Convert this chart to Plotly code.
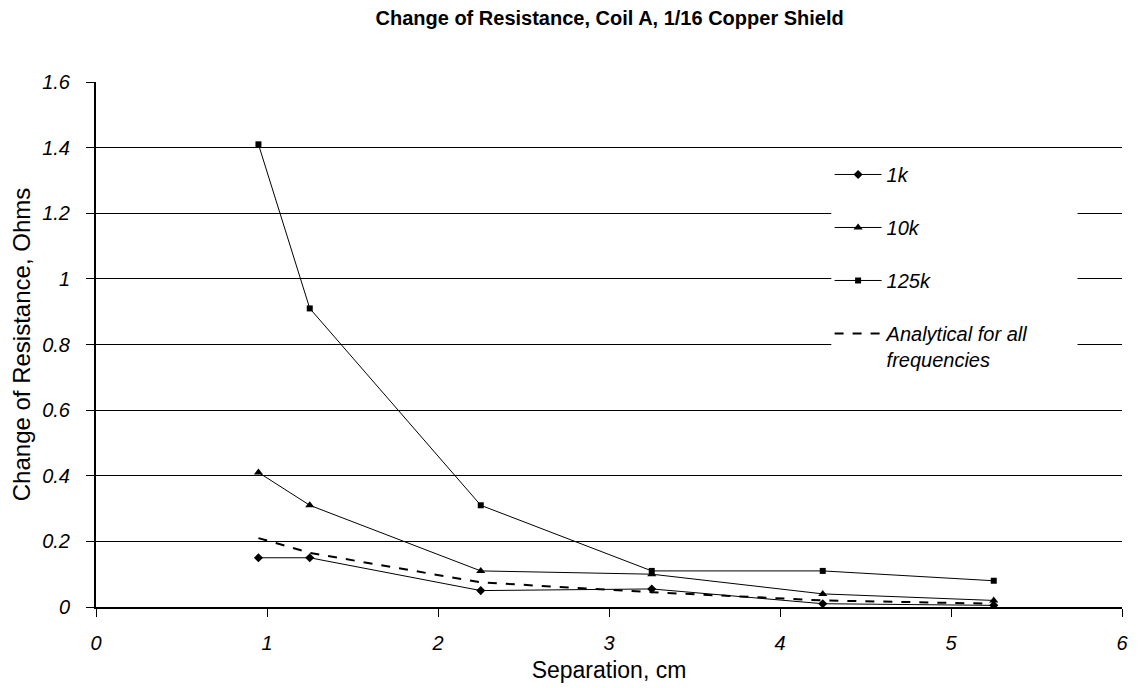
import plotly.graph_objects as go

separation = [0.95, 1.25, 2.25, 3.25, 4.25, 5.25]
r_1k = [0.15, 0.15, 0.05, 0.055, 0.01, 0.005]
r_10k = [0.41, 0.31, 0.11, 0.10, 0.04, 0.02]
r_125k = [1.41, 0.91, 0.31, 0.11, 0.11, 0.08]
r_analytical = [0.21, 0.165, 0.075, 0.045, 0.02, 0.01]

x_ticks = [0, 1, 2, 3, 4, 5, 6]
y_ticks = [0, 0.2, 0.4, 0.6, 0.8, 1.0, 1.2, 1.4, 1.6]
y_tick_text = ["0", "0.2", "0.4", "0.6", "0.8", "1", "1.2", "1.4", "1.6"]

FONT = "Liberation Sans, Arial, sans-serif"

fig = go.Figure()
fig.add_trace(go.Scatter(x=separation, y=r_1k, name="<i>1k</i>", mode="lines+markers",
                         line=dict(color="black", width=1),
                         marker=dict(symbol="diamond", size=7, color="black"),
                         legendgroup="a"))
fig.add_trace(go.Scatter(x=separation, y=r_10k, name="<i>10k</i>", mode="lines+markers",
                         line=dict(color="black", width=1),
                         marker=dict(symbol="triangle-up", size=8, color="black"),
                         legendgroup="b"))
fig.add_trace(go.Scatter(x=separation, y=r_125k, name="<i>125k</i>", mode="lines+markers",
                         line=dict(color="black", width=1),
                         marker=dict(symbol="square", size=6, color="black"),
                         legendgroup="c"))
fig.add_trace(go.Scatter(x=separation, y=r_analytical, name="<i>Analytical for all<br>frequencies</i>",
                         mode="lines", line=dict(color="black", width=2, dash="dash"),
                         legendgroup="d"))

# white area behind the legend that interrupts the gridlines
fig.add_shape(type="rect", xref="x", yref="y", x0=4.30, x1=5.74, y0=0.65, y1=1.35,
              fillcolor="white", line=dict(width=0), layer="between")

fig.update_layout(
    width=1133, height=680,
    paper_bgcolor="white", plot_bgcolor="white",
    margin=dict(l=88, r=19, t=74, b=81),
    font=dict(family=FONT, color="black", size=20),
    title=dict(text="<b>Change of Resistance, Coil A, 1/16 Copper Shield</b>",
               x=0.531, xanchor="center", y=0.996, yanchor="top",
               font=dict(size=20, family=FONT)),
    showlegend=True,
    legend=dict(x=0.715, y=0.861, xanchor="left", yanchor="top",
                bgcolor="rgba(0,0,0,0)", borderwidth=0,
                font=dict(size=20, family=FONT),
                tracegroupgap=24, valign="top", itemwidth=47),
    xaxis=dict(range=[0, 6], tickvals=x_ticks, ticktext=[f"<i>{v}</i>" for v in x_ticks],
               showgrid=False, zeroline=False, showline=True, linecolor="black", linewidth=2,
               ticks="outside", ticklen=8, tickcolor="black", tickwidth=1, automargin=False,
               tickfont=dict(size=20, family=FONT), ticklabelstandoff=9,
               title=dict(text="Separation, cm", font=dict(size=23, family=FONT), standoff=9)),
    yaxis=dict(range=[0, 1.6], tickvals=y_ticks, ticktext=[f"<i>{t}</i>" for t in y_tick_text],
               showgrid=True, gridcolor="black", gridwidth=1, zeroline=False,
               showline=True, linecolor="black", linewidth=2, automargin=False,
               ticks="outside", ticklen=8, tickcolor="black", tickwidth=1,
               tickfont=dict(size=20, family=FONT), ticklabelstandoff=12,
               title=dict(text="Change of Resistance, Ohms", font=dict(size=24, family=FONT), standoff=5)),
)

fig.write_html("out.html")
